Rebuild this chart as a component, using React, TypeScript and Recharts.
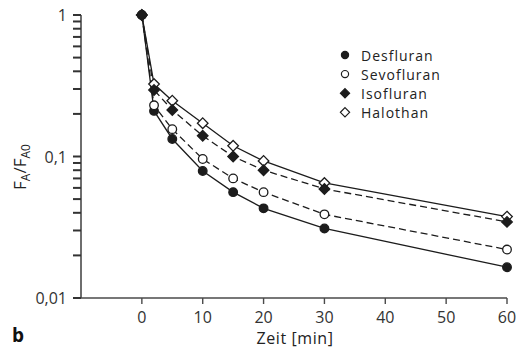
import React from 'react';
import { LineChart, Line, XAxis, YAxis } from 'recharts';

const zeit = [0, 2, 5, 10, 15, 20, 30, 60];
const desfluran = [1, 0.21, 0.133, 0.079, 0.056, 0.043, 0.031, 0.0165];
const sevofluran = [1, 0.23, 0.156, 0.096, 0.07, 0.056, 0.039, 0.022];
const isofluran = [1, 0.295, 0.213, 0.14, 0.1, 0.08, 0.059, 0.0345];
const halothan = [1, 0.325, 0.248, 0.172, 0.119, 0.093, 0.065, 0.0376];

const xTicks = [0, 10, 20, 30, 40, 50, 60];
const yTicks = [
  0.01, 0.02, 0.03, 0.04, 0.05, 0.06, 0.07, 0.08, 0.09,
  0.1, 0.2, 0.3, 0.4, 0.5, 0.6, 0.7, 0.8, 0.9, 1,
];
const yLabels: Record<string, string> = { '1': '1', '0.1': '0,1', '0.01': '0,01' };

const data = zeit.map((t, i) => ({
  t,
  desfluran: desfluran[i],
  sevofluran: sevofluran[i],
  isofluran: isofluran[i],
  halothan: halothan[i],
}));

const FONT = '"Open Sans", "DejaVu Sans", sans-serif';
const INK = '#1c1c1c';
const AXIS = '#4a4a4a';

// log axis: a short mark on every step, text only on the powers of ten
const YTick = (props: any) => {
  const { x, y, payload } = props;
  const label = yLabels[String(payload.value)];
  return (
    <g>
      <rect x={x - 8} y={y - 1} width={8} height={2} fill="#333" />
      {label && (
        <text x={x - 14} y={y} textAnchor="end" dominantBaseline="central"
          fontFamily={FONT} fontSize={16} fill="#333">{label}</text>
      )}
    </g>
  );
};

const diamond = (cx: number, cy: number, r: number) =>
  `M${cx},${cy - r}L${cx + r},${cy}L${cx},${cy + r}L${cx - r},${cy}Z`;

const makeDot = (shape: 'circle' | 'diamond', filled: boolean) => (props: any) => {
  const { cx, cy, index } = props;
  const fill = filled ? INK : '#fff';
  if (shape === 'circle') {
    return <circle key={index} cx={cx} cy={cy} r={4.3} fill={fill} stroke={INK} strokeWidth={1.3} />;
  }
  return <path key={index} d={diamond(cx, cy, 5.3)} fill={fill} stroke={INK} strokeWidth={1.3} />;
};

const legend = [
  { name: 'Desfluran', shape: 'circle', filled: true },
  { name: 'Sevofluran', shape: 'circle', filled: false },
  { name: 'Isofluran', shape: 'diamond', filled: true },
  { name: 'Halothan', shape: 'diamond', filled: false },
];

export default function App() {
  return (
    <div style={{ position: 'absolute', left: 0, top: 0, width: 529, height: 353, background: '#fff' }}>
      <LineChart width={529} height={353} data={data} margin={{ top: 15, right: 22, bottom: 25, left: 21 }}>
        <XAxis
          dataKey="t"
          type="number"
          domain={[-10, 60]}
          ticks={xTicks}
          height={30}
          tickMargin={8}
          tickSize={6}
          axisLine={{ stroke: AXIS, strokeWidth: 1.6 }}
          tickLine={{ stroke: AXIS, strokeWidth: 1.4 }}
          tick={{ fill: '#333', fontSize: 16, fontFamily: FONT }}
        />
        <YAxis
          type="number"
          scale="log"
          domain={[0.01, 1]}
          ticks={yTicks}
          interval={0}
          width={60}
          tickSize={0}
          tickMargin={0}
          tickLine={false}
          axisLine={{ stroke: AXIS, strokeWidth: 1.6 }}
          tick={<YTick />}
        />
        <Line dataKey="desfluran" stroke={INK} strokeWidth={1.3} dot={makeDot('circle', true)} isAnimationActive={false} />
        <Line dataKey="sevofluran" stroke={INK} strokeWidth={1.3} strokeDasharray="7 4" dot={makeDot('circle', false)} isAnimationActive={false} />
        <Line dataKey="halothan" stroke={INK} strokeWidth={1.3} dot={makeDot('diamond', false)} isAnimationActive={false} />
        <Line dataKey="isofluran" stroke={INK} strokeWidth={1.3} strokeDasharray="7 4" dot={makeDot('diamond', true)} isAnimationActive={false} />
      </LineChart>
      <svg width={529} height={353} style={{ position: 'absolute', left: 0, top: 0, pointerEvents: 'none' }}>
        {legend.map((d, i) => {
          const cy = 55 + i * 19.1;
          const fill = d.filled ? INK : '#fff';
          return (
            <g key={d.name}>
              {d.shape === 'circle'
                ? <circle cx={345} cy={cy} r={3.6} fill={fill} stroke={INK} strokeWidth={1.2} />
                : <path d={diamond(345, cy, 4.6)} fill={fill} stroke={INK} strokeWidth={1.2} />}
              <text x={361} y={cy} dominantBaseline="central" fontFamily={FONT} fontSize={14}
                letterSpacing={1} fill="#222">{d.name}</text>
            </g>
          );
        })}
        <text x={295} y={344} textAnchor="middle" fontFamily={FONT} fontSize={16} letterSpacing={0.6} fill="#222">Zeit [min]</text>
        <text transform="translate(25.5,167) rotate(-90)" textAnchor="middle" fontFamily={FONT} fontSize={17} fill="#222">
          F<tspan fontSize={12} dy={4}>A</tspan><tspan dy={-4}>/F</tspan><tspan fontSize={12} dy={4}>A0</tspan>
        </text>
        <text x={12} y={342} fontFamily={FONT} fontSize={19} fontWeight="bold" fill="#111">b</text>
      </svg>
    </div>
  );
}
